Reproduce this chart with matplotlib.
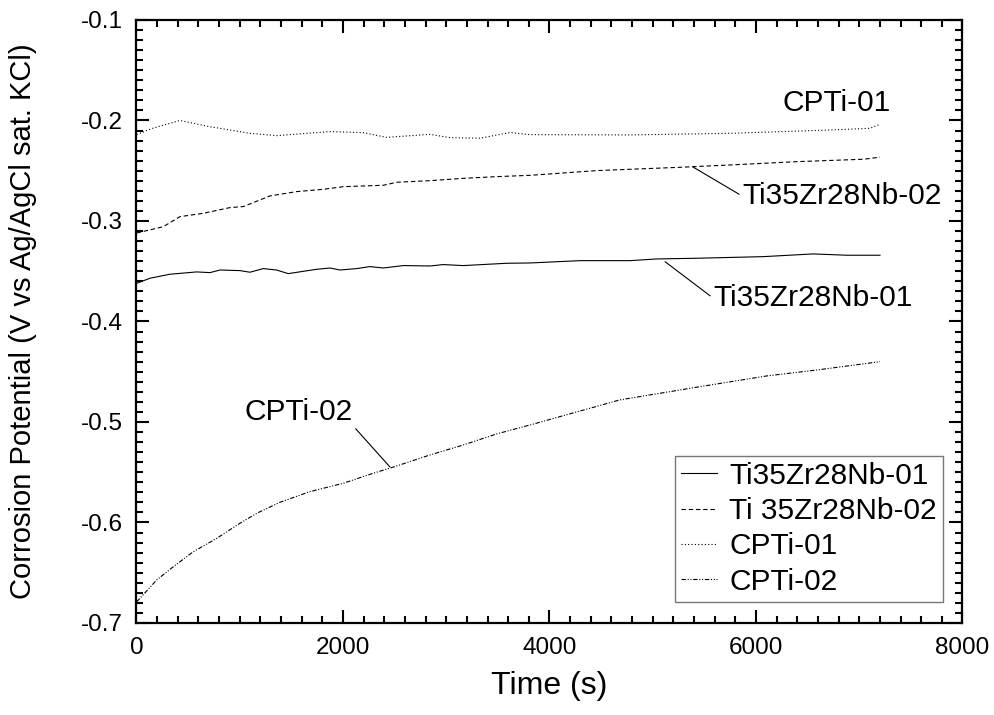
import matplotlib
matplotlib.use("Agg")
import matplotlib.pyplot as plt
from matplotlib.ticker import MultipleLocator

plt.rcParams['font.family'] = ['Liberation Sans', 'DejaVu Sans']

# ---- data ----
t_ti01 = [2, 131, 324, 583, 712, 809, 1002, 1099, 1228, 1357, 1470, 1616, 1745, 1874, 1971,
          2132, 2261, 2390, 2584, 2843, 2971, 3165, 3585, 3811, 4295, 4780, 5038, 5426,
          6071, 6555, 6878, 7201]
v_ti01 = [-0.362, -0.357, -0.353, -0.3507, -0.3514, -0.3488, -0.3494, -0.351, -0.3474,
          -0.3488, -0.3524, -0.3501, -0.3481, -0.3468, -0.3488, -0.3474, -0.3454, -0.3468,
          -0.3444, -0.3448, -0.3434, -0.3444, -0.3421, -0.3418, -0.3395, -0.3395, -0.3378,
          -0.3371, -0.3355, -0.3328, -0.3341, -0.3341]

t_ti02 = [2, 260, 421, 647, 906, 1035, 1293, 1551, 1809, 2003, 2390, 2520, 2843, 3165,
          3488, 3811, 4457, 5264, 5748, 6394, 7039, 7201]
v_ti02 = [-0.312, -0.3057, -0.2957, -0.2924, -0.2867, -0.2857, -0.2751, -0.2708, -0.2685,
          -0.2659, -0.2645, -0.2615, -0.2599, -0.2576, -0.2559, -0.2546, -0.2499, -0.2466,
          -0.2443, -0.241, -0.2386, -0.2366]

t_cp01 = [2, 150, 421, 700, 1099, 1358, 1874, 2194, 2423, 2843, 3036, 3327, 3617, 3811,
          4780, 5748, 6717, 7104, 7201]
v_cp01 = [-0.214, -0.208, -0.200, -0.206, -0.2128, -0.2151, -0.2111, -0.2121, -0.2168,
          -0.2138, -0.2171, -0.2177, -0.212, -0.2141, -0.2144, -0.2128, -0.2095, -0.2078,
          -0.2038]

t_cp02 = [2, 196, 357, 550, 777, 1002, 1164, 1390, 1680, 2003, 2261, 2520, 2843, 3165,
          3488, 3811, 4683, 5457, 6104, 6588, 7201]
v_cp02 = [-0.679, -0.6572, -0.644, -0.6291, -0.6158, -0.6008, -0.5909, -0.5799, -0.5693,
          -0.561, -0.5521, -0.5438, -0.5328, -0.5229, -0.5119, -0.503, -0.478, -0.4649,
          -0.4542, -0.4483, -0.44]

legend_labels = ["Ti35Zr28Nb-01", "Ti 35Zr28Nb-02", "CPTi-01", "CPTi-02"]
xticks = [0, 2000, 4000, 6000, 8000]
yticks = [-0.7, -0.6, -0.5, -0.4, -0.3, -0.2, -0.1]

fig = plt.figure(figsize=(9.94, 7.15), dpi=100)
ax = fig.add_axes([0.1373, 0.1287, 0.8310, 0.8434])

lw = 0.8
ax.plot(t_ti01, v_ti01, color='black', lw=lw, ls='-', label=legend_labels[0])
ax.plot(t_ti02, v_ti02, color='black', lw=lw, ls=(0, (4, 2.5)), label=legend_labels[1])
ax.plot(t_cp01, v_cp01, color='black', lw=lw, ls=(0, (1, 2)), label=legend_labels[2])
ax.plot(t_cp02, v_cp02, color='black', lw=lw, ls=(0, (4, 1.5, 1, 1.5, 1, 1.5)),
        label=legend_labels[3])

ax.set_xlim(0, 8000)
ax.set_ylim(-0.7, -0.1)
ax.set_xticks(xticks)
ax.set_yticks(yticks)
ax.set_xticklabels([str(v) for v in xticks])
ax.set_yticklabels(["%.1f" % v for v in yticks])
ax.xaxis.set_minor_locator(MultipleLocator(200))
ax.yaxis.set_minor_locator(MultipleLocator(0.01))
ax.tick_params(which='both', direction='in', top=True, right=True, width=1.5,
               labelsize=17.5, pad=10)
ax.tick_params(which='major', length=9.5)
ax.tick_params(which='minor', length=5)
for s in ax.spines.values():
    s.set_linewidth(1.6)

ax.set_xlabel("Time (s)", fontsize=23)
ax.set_ylabel("Corrosion Potential (V vs Ag/AgCl sat. KCl)", fontsize=21)
ax.xaxis.set_label_coords(0.5, -0.08)
ax.yaxis.set_label_coords(-0.121, 0.5)

# annotations
fs_ann = 21.5
ax.text(6252, -0.1826, "CPTi-01", fontsize=fs_ann, va='center', ha='left')
ax.annotate("Ti35Zr28Nb-02", xy=(5390, -0.2463), xytext=(5864, -0.2751),
            fontsize=fs_ann, va='center', ha='left',
            arrowprops=dict(arrowstyle='-', color='black', lw=0.8, shrinkA=0, shrinkB=0,
                            relpos=(0.0, 0.5)))
ax.annotate("Ti35Zr28Nb-01", xy=(5119, -0.3405), xytext=(5583, -0.3766),
            fontsize=fs_ann, va='center', ha='left',
            arrowprops=dict(arrowstyle='-', color='black', lw=0.8, shrinkA=0, shrinkB=0,
                            relpos=(0.0, 0.5)))
ax.annotate("CPTi-02", xy=(2455, -0.5448), xytext=(1050, -0.490),
            fontsize=fs_ann, va='center', ha='left',
            arrowprops=dict(arrowstyle='-', color='black', lw=0.8, shrinkA=0, shrinkB=0,
                            relpos=(1.0, 0.0)))

leg = ax.legend(loc='lower right', bbox_to_anchor=(0.976, 0.035), fontsize=21.5,
                frameon=True, fancybox=False, edgecolor='#555555', handlelength=1.2,
                handletextpad=0.4, labelspacing=0.25, borderpad=0.2, borderaxespad=0)
leg.get_frame().set_linewidth(1.0)

fig.savefig("out.png", dpi=100)
